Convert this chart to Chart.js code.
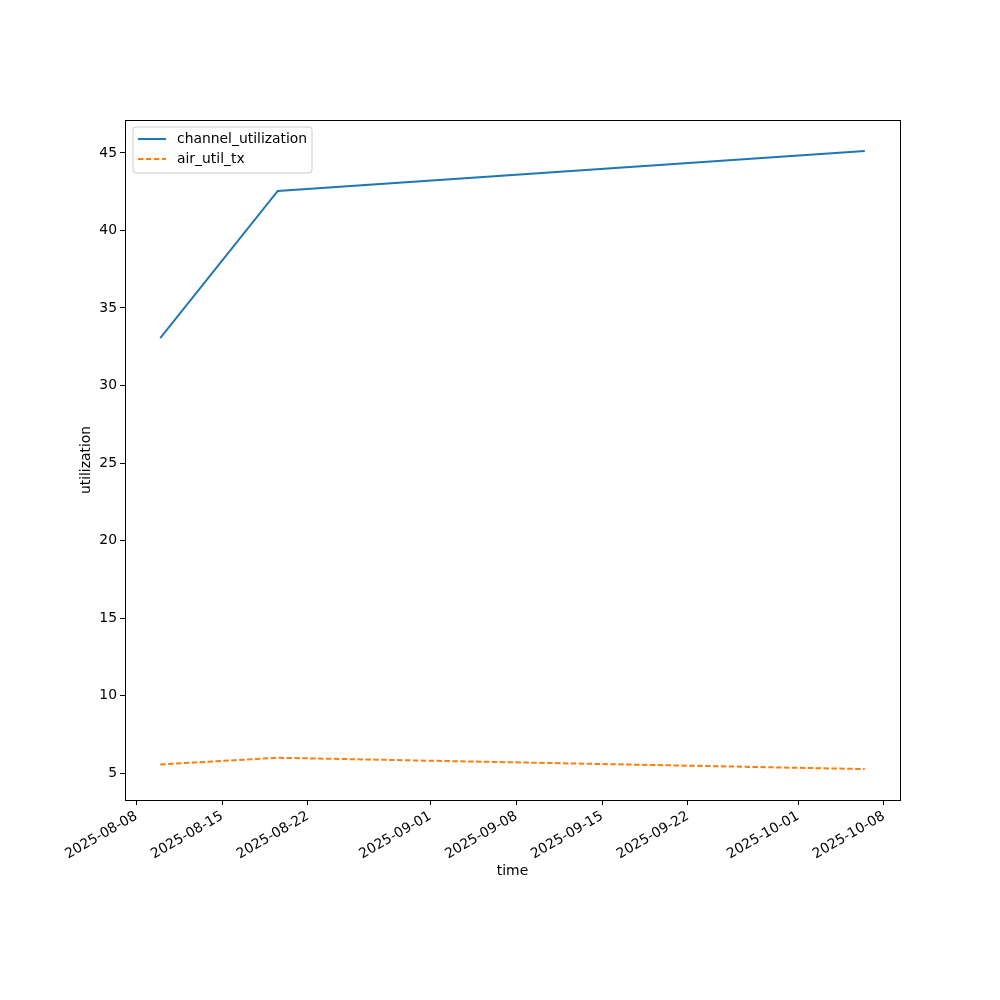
<!DOCTYPE html>
<html><head><meta charset="utf-8">
<script src="https://cdn.jsdelivr.net/npm/chart.js@4.4.1/dist/chart.umd.min.js"></script>
<style>html,body{margin:0;padding:0;background:#fff}#wrap{width:1000px;height:1000px;position:relative}</style>
</head><body><div id="wrap"><canvas id="c" width="1000" height="1000"></canvas></div>
<script>
const times = ['2025-08-09T22:50:00Z', '2025-08-19T13:00:00Z', '2025-10-06T10:30:00Z'];
const channelUtilization = [33.06, 42.55, 45.13];
const airUtilTx = [5.56, 5.99, 5.26];
const seriesNames = ['channel_utilization', 'air_util_tx'];
const xTickDates = ['2025-08-08','2025-08-15','2025-08-22','2025-09-01','2025-09-08','2025-09-15','2025-09-22','2025-10-01','2025-10-08'];
const yTicks = [5, 10, 15, 20, 25, 30, 35, 40, 45];

const FONT = 'DejaVu Sans';
const FS = 13.9;
Chart.defaults.color = '#000';
Chart.defaults.font.family = FONT;
Chart.defaults.font.size = FS;

const xs = times.map(t => Date.parse(t));
const xMinD = Math.min(...xs), xMaxD = Math.max(...xs);
const xm = (xMaxD - xMinD) * 0.05;
const allY = channelUtilization.concat(airUtilTx);
const yMinD = Math.min(...allY), yMaxD = Math.max(...allY);
const ym = (yMaxD - yMinD) * 0.05;

function fmtDate(v) {
  const d = new Date(v);
  const p = n => String(n).padStart(2, '0');
  return d.getUTCFullYear() + '-' + p(d.getUTCMonth() + 1) + '-' + p(d.getUTCDate());
}

const boxPlugin = {
  id: 'box',
  afterDatasetsDraw(chart) {
    const {ctx, chartArea: a} = chart;
    ctx.save();
    ctx.strokeStyle = '#000';
    ctx.lineWidth = 1;
    ctx.strokeRect(Math.round(a.left) + 0.5, Math.round(a.top) + 0.5, Math.round(a.right - a.left), Math.round(a.bottom - a.top));
    // legend
    const lx = a.left + 8, ly = a.top + 7, lw = 179, lh = 46;
    ctx.beginPath();
    const r = 3;
    ctx.moveTo(lx + r, ly);
    ctx.arcTo(lx + lw, ly, lx + lw, ly + lh, r);
    ctx.arcTo(lx + lw, ly + lh, lx, ly + lh, r);
    ctx.arcTo(lx, ly + lh, lx, ly, r);
    ctx.arcTo(lx, ly, lx + lw, ly, r);
    ctx.closePath();
    ctx.fillStyle = 'rgba(255,255,255,0.8)';
    ctx.fill();
    ctx.strokeStyle = '#cccccc';
    ctx.lineWidth = 1;
    ctx.stroke();
    chart.data.datasets.forEach((ds, i) => {
      const y = ly + 12 + i * 20;
      ctx.beginPath();
      ctx.setLineDash(ds.borderDash || []);
      ctx.strokeStyle = ds.borderColor;
      ctx.lineWidth = ds.borderWidth;
      ctx.moveTo(lx + 5, y);
      ctx.lineTo(lx + 33, y);
      ctx.stroke();
      ctx.setLineDash([]);
      ctx.fillStyle = '#000';
      ctx.font = FS + 'px "' + FONT + '"';
      ctx.textBaseline = 'middle';
      ctx.textAlign = 'left';
      ctx.fillText(ds.label, lx + 44, y);
    });
    ctx.restore();
  }
};

new Chart(document.getElementById('c'), {
  type: 'line',
  data: {
    datasets: [
      { label: seriesNames[0], data: xs.map((x, i) => ({x, y: channelUtilization[i]})), borderColor: '#1f77b4', borderWidth: 2, pointRadius: 0, fill: false, tension: 0 },
      { label: seriesNames[1], data: xs.map((x, i) => ({x, y: airUtilTx[i]})), borderColor: '#ff7f0e', borderWidth: 2, borderDash: [5.5, 2.4], pointRadius: 0, fill: false, tension: 0 }
    ]
  },
  options: {
    responsive: false,
    animation: false,
    events: [],
    layout: { padding: { left: 74, right: 100, top: 120, bottom: 116 } },
    plugins: { legend: { display: false }, tooltip: { enabled: false } },
    scales: {
      x: {
        type: 'linear',
        min: xMinD - xm, max: xMaxD + xm,
        afterBuildTicks: s => { s.ticks = xTickDates.map(d => ({ value: Date.parse(d + 'T00:00:00Z') })); },
        afterFit: s => { s.height = 84; },
        ticks: { callback: v => fmtDate(v), minRotation: 30, maxRotation: 30, autoSkip: false, padding: 3, color: '#000', font: { size: FS } },
        grid: { drawOnChartArea: false, drawTicks: true, tickLength: 5, color: '#000', tickWidth: 1 },
        border: { display: false },
        title: { display: true, text: 'time', color: '#000', font: { size: FS }, padding: { top: 4, bottom: 4 } }
      },
      y: {
        type: 'linear',
        min: yMinD - ym, max: yMaxD + ym,
        afterBuildTicks: s => { s.ticks = yTicks.map(v => ({ value: v })); },
        afterFit: s => { s.width = 51; },
        ticks: { callback: v => String(v), padding: 3, color: '#000', font: { size: FS } },
        grid: { drawOnChartArea: false, drawTicks: true, tickLength: 5, color: '#000', tickWidth: 1 },
        border: { display: false },
        title: { display: true, text: 'utilization', color: '#000', font: { size: FS }, padding: { top: 4, bottom: 4 } }
      }
    }
  },
  plugins: [boxPlugin]
});
</script>
</body></html>
